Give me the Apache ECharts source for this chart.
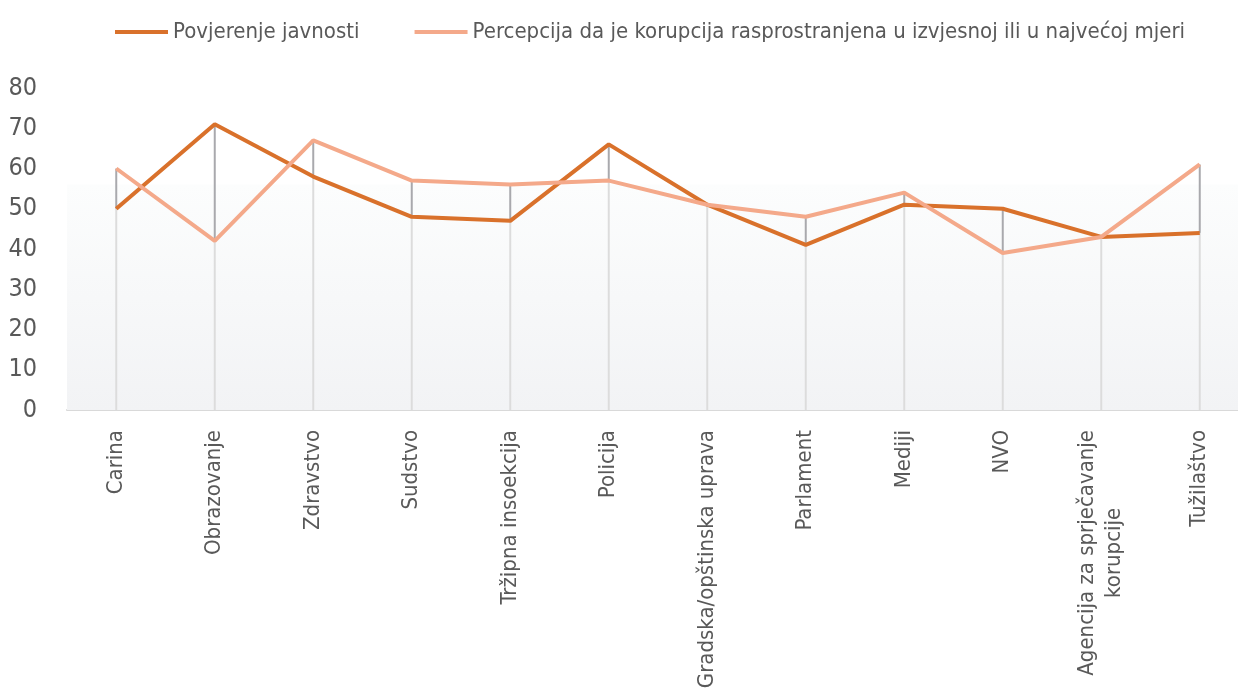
<!DOCTYPE html>
<html>
<head>
<meta charset="utf-8">
<script src="https://cdn.jsdelivr.net/npm/echarts@6/dist/echarts.min.js"></script>
<style>
  html, body { margin: 0; padding: 0; background: #fff; }
  #chart { width: 1238px; height: 699px; }
</style>
</head>
<body>
<div id="chart"></div>
<script>
var categories = ['Carina', 'Obrazovanje', 'Zdravstvo', 'Sudstvo', 'Tržipna insoekcija', 'Policija',
  'Gradska/opštinska uprava', 'Parlament', 'Mediji', 'NVO', 'Agencija za sprječavanje\nkorupcije', 'Tužilaštvo']
var povjerenje = [50, 71, 58, 48, 47, 66, 51, 41, 51, 50, 43, 44]
var percepcija = [60, 42, 67, 57, 56, 57, 51, 48, 54, 39, 43, 61]
var seriesNames = ['Povjerenje javnosti', 'Percepcija da je korupcija rasprostranjena u izvjesnoj ili u najvećoj mjeri']

var font = '"DejaVu Sans Condensed", "Liberation Sans Narrow", sans-serif'

// drop lines / high-low lines (built from the two series)
var dropData = categories.map(function (c, i) {
  return [i, Math.max(povjerenje[i], percepcija[i]), Math.min(povjerenje[i], percepcija[i])]
})

var chart = echarts.init(document.getElementById('chart'))
chart.setOption({
  animation: false,
  legend: {
    data: seriesNames,
    top: 16,
    left: 110,
    icon: 'rect',
    itemWidth: 53,
    itemHeight: 4,
    itemGap: 55,
    textStyle: { fontFamily: font, fontSize: 22, color: '#595959' }
  },
  grid: {
    left: 67,
    top: 88,
    right: -11,
    bottom: 289,
    containLabel: false,
    outerBoundsMode: 'none'
  },
  xAxis: {
    type: 'category',
    data: categories,
    boundaryGap: true,
    axisTick: { show: false },
    axisLine: { lineStyle: { color: '#d9d9d9', width: 2 } },
    axisLabel: {
      rotate: 90,
      margin: 20,
      interval: 0,
      fontFamily: font,
      fontSize: 22,
      lineHeight: 27,
      align: 'right',
      color: '#595959',
      formatter: function (v) {
        return v.split('\n').map(function (s) { return '{c|' + s + '}' }).join('\n')
      },
      rich: {
        c: { align: 'center', fontFamily: font, fontSize: 22, lineHeight: 27, color: '#595959' }
      }
    }
  },
  yAxis: {
    type: 'value',
    min: 0,
    max: 80,
    interval: 10,
    splitLine: { show: false },
    axisLine: { show: false },
    axisLabel: { margin: 30, fontFamily: font, fontSize: 25, color: '#595959' }
  },
  series: [
    {
      type: 'custom',
      name: 'drop',
      silent: true,
      z: 1,
      data: dropData,
      renderItem: function (params, api) {
        var top = api.coord([api.value(0), api.value(1)])
        var low = api.coord([api.value(0), api.value(2)])
        var base = api.coord([api.value(0), 0])
        return {
          type: 'group',
          children: [
            { type: 'line', shape: { x1: top[0], y1: low[1], x2: base[0], y2: base[1] },
              style: { stroke: '#dcdcdc', lineWidth: 2 } },
            { type: 'line', shape: { x1: top[0], y1: top[1], x2: low[0], y2: low[1] },
              style: { stroke: '#a9a9ad', lineWidth: 2 } }
          ]
        }
      },
      markArea: {
        silent: true,
        itemStyle: {
          color: {
            type: 'linear', x: 0, y: 0, x2: 0, y2: 1,
            colorStops: [{ offset: 0, color: '#fcfdfd' }, { offset: 1, color: '#f2f3f5' }]
          }
        },
        data: [[{ yAxis: 56 }, { yAxis: 0 }]]
      }
    },
    {
      name: seriesNames[0],
      type: 'line',
      data: povjerenje,
      symbol: 'none',
      z: 3,
      lineStyle: { color: '#d9712b', width: 4 },
      itemStyle: { color: '#d9712b' }
    },
    {
      name: seriesNames[1],
      type: 'line',
      data: percepcija,
      symbol: 'none',
      z: 4,
      lineStyle: { color: '#f4a98a', width: 4 },
      itemStyle: { color: '#f4a98a' }
    }
  ]
})
</script>
</body>
</html>
